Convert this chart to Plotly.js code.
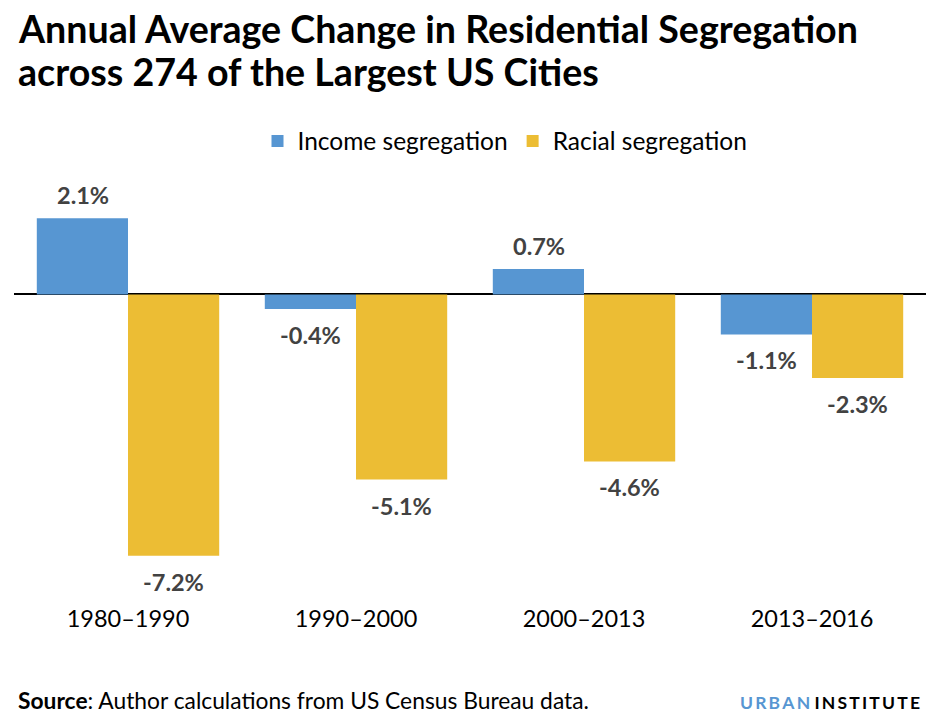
<!DOCTYPE html>
<html>
<head>
<meta charset="utf-8">
<script src="https://cdn.plot.ly/plotly-3.0.1.min.js"></script>
<style>
html,body{margin:0;padding:0;background:#fff;}
#chart{width:937px;height:721px;}
</style>
</head>
<body>
<div id="chart"></div>
<script>
const categories = ["1980–1990", "1990–2000", "2000–2013", "2013–2016"];
const incomeSeg = [2.1, -0.4, 0.7, -1.1];
const racialSeg = [-7.2, -5.1, -4.6, -2.3];
const seriesNames = ["Income segregation", "Racial segregation"];
const titleLines = ["Annual Average Change in Residential Segregation", "across 274 of the Largest US Cities"];

const BLUE = "#5796d2";
const GOLD = "#ecbd34";
const FONT = "Lato, 'Open Sans', sans-serif";

const traces = [
  {type: "bar", name: seriesNames[0], x: categories, y: incomeSeg,
   marker: {color: BLUE}, hoverinfo: "skip"},
  {type: "bar", name: seriesNames[1], x: categories, y: racialSeg,
   marker: {color: GOLD}, hoverinfo: "skip"}
];

function fmt(v) { return v.toFixed(1) + "%"; }

// plot area: left 14, width 912; top 170, height 430
const px2x = p => (p - 14) / 912;
const px2y = p => 1 + (170 - p) / 430;

const annotations = [];
[[incomeSeg, -45.5], [racialSeg, 45.5]].forEach(([vals, xs]) => {
  vals.forEach((v, i) => {
    annotations.push({
      xref: "x", yref: "y", x: categories[i], y: v,
      xshift: xs, yshift: v >= 0 ? 23 : -26,
      text: fmt(v), showarrow: false, yanchor: "middle",
      font: {family: FONT, size: 23.5, color: "#424242", weight: 700}
    });
  });
});

// title lines
annotations.push({
  xref: "paper", yref: "paper", x: px2x(16), y: px2y(28), xanchor: "left", yanchor: "middle",
  text: titleLines[0], showarrow: false,
  font: {family: FONT, size: 37.6, color: "#000", weight: 700}
});
annotations.push({
  xref: "paper", yref: "paper", x: px2x(16), y: px2y(72), xanchor: "left", yanchor: "middle",
  text: titleLines[1], showarrow: false,
  font: {family: FONT, size: 37.6, color: "#000", weight: 700}
});

annotations.push({
  xref: "paper", yref: "paper", x: px2x(16), y: px2y(700), xanchor: "left", yanchor: "middle",
  text: "<b>Source</b>: Author calculations from US Census Bureau data.",
  showarrow: false, font: {family: FONT, size: 22.8, color: "#000"}
});
annotations.push({
  xref: "paper", yref: "paper", x: px2x(922), y: px2y(702), xanchor: "right", yanchor: "middle",
  text: "<span style='color:" + BLUE + "'>U\u2009R\u2009B\u2009A\u2009N</span> I\u2009N\u2009S\u2009T\u2009I\u2009T\u2009U\u2009T\u2009E",
  showarrow: false, font: {family: FONT, size: 17.5, color: "#000", weight: 700}
});

const layout = {
  width: 937, height: 721,
  paper_bgcolor: "#fff", plot_bgcolor: "#fff",
  margin: {l: 14, r: 11, t: 170, b: 121, pad: 0},
  barmode: "group", bargap: 0.2, bargroupgap: 0,
  showlegend: true,
  legend: {orientation: "h", x: px2x(505), xanchor: "center", y: px2y(141), yanchor: "middle",
           font: {family: FONT, size: 24.5, color: "#000"}, traceorder: "normal",
           itemwidth: 30, bgcolor: "rgba(0,0,0,0)"},
  xaxis: {type: "category", showgrid: false, showline: false, ticks: "",
          tickfont: {family: FONT, size: 23.5, color: "#000"}, ticklabelstandoff: 2, fixedrange: true},
  yaxis: {range: [-8.42, 3.43], showgrid: false, showticklabels: false, ticks: "",
          zeroline: true, zerolinecolor: "#000", zerolinewidth: 2, fixedrange: true},
  annotations: annotations
};

Plotly.newPlot("chart", traces, layout, {displayModeBar: false, staticPlot: true});
</script>
</body>
</html>
